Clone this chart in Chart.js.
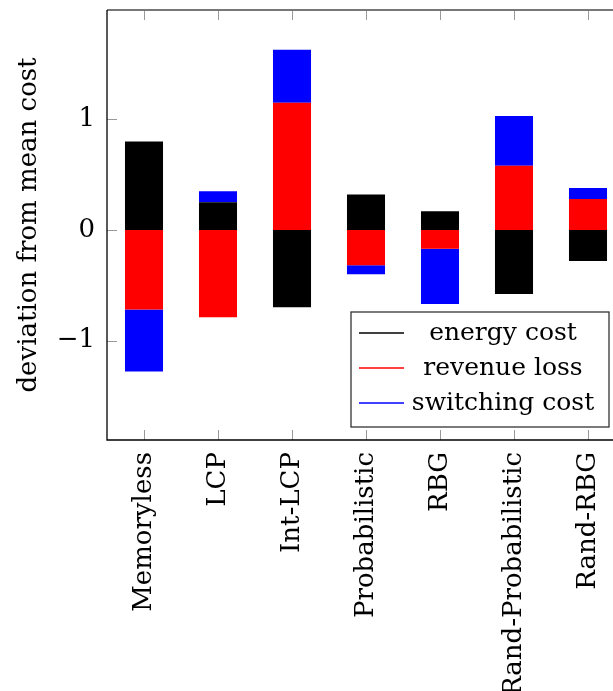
<!DOCTYPE html>
<html>
<head>
<meta charset="utf-8">
<script src="https://cdn.jsdelivr.net/npm/chart.js@4/dist/chart.umd.min.js"></script>
<style>
  html, body { margin: 0; padding: 0; background: #fff; overflow: hidden; }
  #wrap { width: 640px; height: 691px; }
</style>
</head>
<body>
<div id="wrap"><canvas id="costChart" width="640" height="691"></canvas></div>
<script>
// data
const categories = ['Memoryless', 'LCP', 'Int-LCP', 'Probabilistic', 'RBG', 'Rand-Probabilistic', 'Rand-RBG'];
const energyCost = [0.80, 0.25, -0.70, 0.32, 0.17, -0.58, -0.28];
const revenueLoss = [-0.72, -0.79, 1.15, -0.32, -0.17, 0.58, 0.28];
const switchingCost = [-0.56, 0.10, 0.48, -0.08, -0.50, 0.45, 0.10];
const yTicks = [-1, 0, 1];

const FONT = '"DejaVu Serif", serif';

// pgfplots style inward ticks + frame
const frameTicks = {
    id: 'frameTicks',
    afterDatasetsDraw(chart) {
        const { ctx, chartArea: a, scales } = chart;
        ctx.save();
        ctx.strokeStyle = '#999';
        ctx.lineWidth = 1;
        scales.y.ticks.forEach(t => {
            const y = Math.round(scales.y.getPixelForValue(t.value)) + 0.5;
            ctx.beginPath(); ctx.moveTo(a.left, y); ctx.lineTo(a.left + 10, y); ctx.stroke();
        });
        categories.forEach((c, i) => {
            const x = Math.round(scales.x.getPixelForValue(i)) + 0.5;
            ctx.beginPath(); ctx.moveTo(x, a.bottom); ctx.lineTo(x, a.bottom - 10); ctx.stroke();
            ctx.beginPath(); ctx.moveTo(x, a.top); ctx.lineTo(x, a.top + 10); ctx.stroke();
        });
        // frame
        ctx.strokeStyle = '#777';
        ctx.lineWidth = 2;
        ctx.beginPath(); ctx.moveTo(a.left, a.top); ctx.lineTo(a.right, a.top); ctx.stroke();
        ctx.strokeStyle = '#000';
        ctx.lineWidth = 1.3;
        ctx.beginPath();
        ctx.moveTo(a.left, a.top); ctx.lineTo(a.left, a.bottom); ctx.lineTo(a.right, a.bottom);
        ctx.stroke();
        ctx.restore();
    }
};

// legend box in the lower right of the plot
const boxLegend = {
    id: 'boxLegend',
    afterDraw(chart) {
        const { ctx, chartArea: a } = chart;
        const right = a.right - 16, bottom = a.bottom - 13;
        const w = 258, h = 115;
        const left = right - w, top = bottom - h;
        ctx.save();
        ctx.fillStyle = '#fff';
        ctx.fillRect(left, top, w, h);
        ctx.strokeStyle = '#333';
        ctx.lineWidth = 1.3;
        ctx.strokeRect(left, top, w, h);
        ctx.font = '25px ' + FONT;
        ctx.textAlign = 'center';
        ctx.textBaseline = 'middle';
        chart.data.datasets.forEach((ds, i) => {
            const y = top + 21 + i * 35;
            ctx.strokeStyle = ds.backgroundColor;
            ctx.lineWidth = 1.3;
            ctx.beginPath(); ctx.moveTo(left + 8, y); ctx.lineTo(left + 53, y); ctx.stroke();
            ctx.fillStyle = '#000';
            ctx.fillText(ds.label, left + 152, y);
        });
        ctx.restore();
    }
};

const ctx = document.getElementById('costChart').getContext('2d');
new Chart(ctx, {
    type: 'bar',
    data: {
        labels: categories,
        datasets: [
            { label: 'energy cost', data: energyCost, backgroundColor: '#000000' },
            { label: 'revenue loss', data: revenueLoss, backgroundColor: '#ff0000' },
            { label: 'switching cost', data: switchingCost, backgroundColor: '#0000ff' }
        ]
    },
    options: {
        responsive: false,
        animation: false,
        layout: { padding: { top: 10, right: 15, left: 0, bottom: 0 } },
        datasets: { bar: { categoryPercentage: 1, barPercentage: 0.514, borderWidth: 0 } },
        plugins: { legend: { display: false }, tooltip: { enabled: false } },
        scales: {
            x: {
                stacked: true,
                grid: { display: false, drawTicks: false },
                border: { display: false },
                ticks: {
                    color: '#000', font: { family: FONT, size: 26 },
                    minRotation: 90, maxRotation: 90, padding: 12, autoSkip: false
                },
                afterFit(s) {
                    s.height = 251;
                    s.paddingLeft = 0; s.paddingRight = 0;
                }
            },
            y: {
                stacked: true,
                min: -1.9,
                max: 1.99,
                afterBuildTicks(s) { s.ticks = yTicks.map(v => ({ value: v })); },
                grid: { display: false, drawTicks: false },
                border: { display: false },
                ticks: {
                    color: '#000', font: { family: FONT, size: 26 }, padding: 12,
                    callback: v => v < 0 ? '\u2212' + Math.abs(v) : String(v)
                },
                title: {
                    display: true, text: 'deviation from mean cost', color: '#000',
                    font: { family: FONT, size: 26 }, padding: { top: 14, bottom: 0 }
                },
                afterFit(s) {
                    s.width = 107;
                    s.paddingTop = 0; s.paddingBottom = 0;
                }
            }
        }
    },
    plugins: [frameTicks, boxLegend]
});
</script>
</body>
</html>
